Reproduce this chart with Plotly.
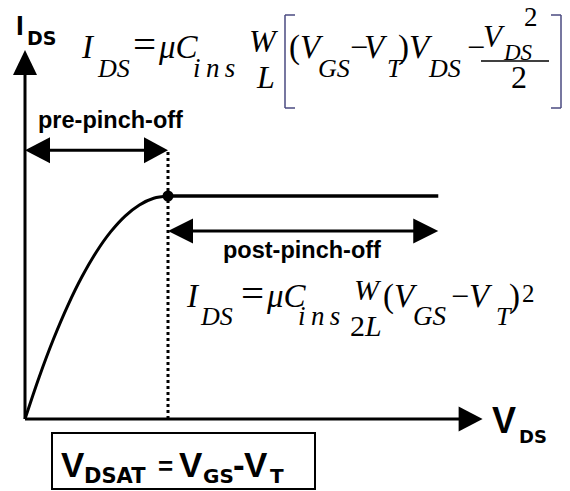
import plotly.graph_objects as go

# FET output characteristic sketch: I_DS against V_DS, both expressed in
# units of the pinch-off point (V_DSAT, I_DSAT).
vds_triode = [0.0, 0.1, 0.2, 0.3, 0.4, 0.5, 0.6, 0.7, 0.8, 0.9, 1.0]
ids_triode = [0.0, 0.19, 0.36, 0.51, 0.64, 0.75, 0.84, 0.91, 0.96, 0.99, 1.0]
vds_saturation = [1.0, 2.89]
ids_saturation = [1.0, 1.0]
v_dsat = 1.0
i_dsat = 1.0

# ---- geometry of the drawing ----
W, H = 570, 491
ORIGIN = (25, 419)      # pixel position of (V_DS, I_DS) = (0, 0)
PX_V = 143              # pixels per unit of V_DS
PX_I = 223              # pixels per unit of I_DS
V_AXIS_END = 3.2        # tip of the V_DS axis arrow
I_AXIS_END = 1.655      # tip of the I_DS axis arrow
I_PRE = 1.205           # height of the pre-pinch-off span arrow
I_POST = 0.843          # height of the post-pinch-off span arrow

SERIF = "Liberation Serif"
SANS = "Liberation Sans"
WIDE = "DejaVu Sans"
ASCENT = {SERIF: 0.891, SANS: 0.905, WIDE: 0.928}
INK = "black"
BRACKET = "#4a4a80"
THIN = "\u2009"

fig = go.Figure()

fig.add_trace(go.Scatter(x=vds_triode, y=ids_triode, mode="lines",
                         line=dict(color=INK, width=3, shape="spline"),
                         hoverinfo="skip"))
fig.add_trace(go.Scatter(x=vds_saturation, y=ids_saturation, mode="lines",
                         line=dict(color=INK, width=3.5), hoverinfo="skip"))
fig.add_trace(go.Scatter(x=[v_dsat], y=[i_dsat], mode="markers",
                         marker=dict(color=INK, size=11), hoverinfo="skip"))

shapes = []


def seg(x0, y0, x1, y1, width=3, dash="solid", color=INK):
    shapes.append(dict(type="line", x0=x0, y0=y0, x1=x1, y1=y1,
                       xref="x", yref="y",
                       line=dict(color=color, width=width, dash=dash)))


def head(tx, ty, direction, length_px, half_px):
    """Filled triangular arrowhead with its tip at (tx, ty) in data units."""
    L, h_x, h_y = length_px / PX_V, half_px / PX_V, half_px / PX_I
    if direction == "right":
        pts = [(tx, ty), (tx - L, ty + h_y), (tx - L, ty - h_y)]
    elif direction == "left":
        pts = [(tx, ty), (tx + L, ty + h_y), (tx + L, ty - h_y)]
    else:  # up
        Ly = length_px / PX_I
        pts = [(tx, ty), (tx - h_x, ty - Ly), (tx + h_x, ty - Ly)]
    path = "M " + " L ".join(f"{x:.5f},{y:.5f}" for x, y in pts) + " Z"
    shapes.append(dict(type="path", path=path, xref="x", yref="y",
                       fillcolor=INK, line=dict(width=0)))


# axes
seg(0, 0, V_AXIS_END - 23 / PX_V, 0)
head(V_AXIS_END, 0, "right", 24, 12.5)
seg(0, 0, 0, I_AXIS_END - 24 / PX_I)
head(0, I_AXIS_END, "up", 25, 12)

# V_DSAT marker line
seg(v_dsat, 0, v_dsat, I_PRE, width=3, dash="dot")

# pre-pinch-off span
seg(0 + 20 / PX_V, I_PRE, v_dsat - 20 / PX_V, I_PRE)
head(0, I_PRE, "left", 25, 13)
head(v_dsat, I_PRE, "right", 24, 13)

# post-pinch-off span
seg(v_dsat + 20 / PX_V, I_POST, vds_saturation[-1] - 20 / PX_V, I_POST)
head(v_dsat, I_POST, "left", 25, 12.5)
head(vds_saturation[-1], I_POST, "right", 25, 12.5)


# ---- paper-space helpers (pixel coordinates, y downward) ----
def px(x):
    return x / W


def py(y):
    return 1 - y / H


def pline(x0, y0, x1, y1, width=1.5, color=INK):
    shapes.append(dict(type="line", xref="paper", yref="paper",
                       x0=px(x0), y0=py(y0), x1=px(x1), y1=py(y1),
                       line=dict(color=color, width=width)))


# square brackets of the triode-region formula
pline(285, 15, 285, 108, color=BRACKET)
pline(285, 15, 295, 15, color=BRACKET)
pline(285, 108, 295, 108, color=BRACKET)
pline(561, 15, 561, 108, color=BRACKET)
pline(551, 15, 561, 15, color=BRACKET)
pline(551, 108, 561, 108, color=BRACKET)
# fraction bar of V_DS^2 / 2
pline(481, 61, 549, 61, width=1.5)

# box around the saturation-voltage definition
shapes.append(dict(type="rect", xref="paper", yref="paper",
                   x0=px(52), y0=py(489), x1=px(315), y1=py(433),
                   line=dict(color=INK, width=2), fillcolor="rgba(0,0,0,0)"))

annotations = []


def run(text, x, baseline, size, family=SERIF, bold=False, anchor="left"):
    top = baseline - ASCENT[family] * size
    annotations.append(dict(
        text=f"<b>{text}</b>" if bold else text,
        x=px(x), y=py(top), xref="paper", yref="paper",
        xanchor=anchor, yanchor="top", showarrow=False,
        borderpad=0, borderwidth=0,
        font=dict(family=family, size=size, color=INK)))


# axis labels
run("I", 16, 35, 28, SANS, True)
run("DS", 27, 45, 19, WIDE, True)
run("V", 492, 433, 36, SANS, True)
run("DS", 519, 443, 18, WIDE, True)

# region labels
run("pre-pinch-off", 110.5, 128, 23.5, SANS, True, anchor="center")
run("post-pinch-off", 302, 258, 23.5, SANS, True, anchor="center")

# triode-region current
run("<i>I</i>", 81, 58, 33)
run("<i>DS</i>", 97, 77, 26)
run("=", 133, 58, 41)
run("<i>μC</i>", 158, 58, 33)
run(f"<i>i{THIN}n{THIN}s</i>", 193, 77, 27)
run("<i>W</i>", 249, 52, 32)
run("<i>L</i>", 256, 88, 32)
run("(<i>V</i>", 289, 58, 33)
run("<i>GS</i>", 318, 77, 26)
run("−", 350, 58, 32)
run("<i>V</i>", 364, 58, 33)
run("<i>T</i>", 387, 77, 26)
run(")<i>V</i>", 398, 58, 33)
run("<i>DS</i>", 428, 77, 26)
run("−", 467, 58, 32)
run("<i>V</i>", 483, 47, 31)
run("<i>DS</i>", 503, 60, 23)
run("2", 524, 26, 27)
run("2", 511, 88, 32)

# saturation-region current
run("<i>I</i>", 186, 307, 33)
run("<i>DS</i>", 200, 325, 26)
run("=", 241, 307, 41)
run("<i>μC</i>", 266, 307, 33)
run(f"<i>i{THIN}n{THIN}s</i>", 298, 325, 27)
run("<i>W</i>", 354, 300, 30)
run("2<i>L</i>", 350, 336, 30)
run("(<i>V</i>", 383, 307, 33)
run("<i>GS</i>", 413, 325, 27)
run("−", 451, 307, 32)
run("<i>V</i>", 469, 307, 33)
run("<i>T</i>", 496, 325, 26)
run(")", 509, 307, 33)
run("2", 522, 302, 25)

# V_DSAT definition
run("V", 61, 477, 35, SANS, True)
run("DSAT", 84, 483, 21, WIDE, True)
run("=", 158, 475, 26, SANS, True)
run("V", 179, 477, 35, SANS, True)
run("GS", 203, 483, 20, WIDE, True)
run("-", 233, 477, 35, SANS, True)
run("V", 244, 477, 35, SANS, True)
run("T", 270, 483, 20, WIDE, True)

fig.update_layout(
    width=W, height=H, autosize=False,
    margin=dict(l=0, r=0, t=0, b=0, pad=0),
    paper_bgcolor="white", plot_bgcolor="white",
    showlegend=False,
    shapes=shapes, annotations=annotations,
    xaxis=dict(visible=False, range=[-ORIGIN[0] / PX_V, (W - ORIGIN[0]) / PX_V],
               fixedrange=True),
    yaxis=dict(visible=False, range=[-(H - ORIGIN[1]) / PX_I, ORIGIN[1] / PX_I],
               fixedrange=True),
)

fig.write_html("out.html", config={"displayModeBar": False})
